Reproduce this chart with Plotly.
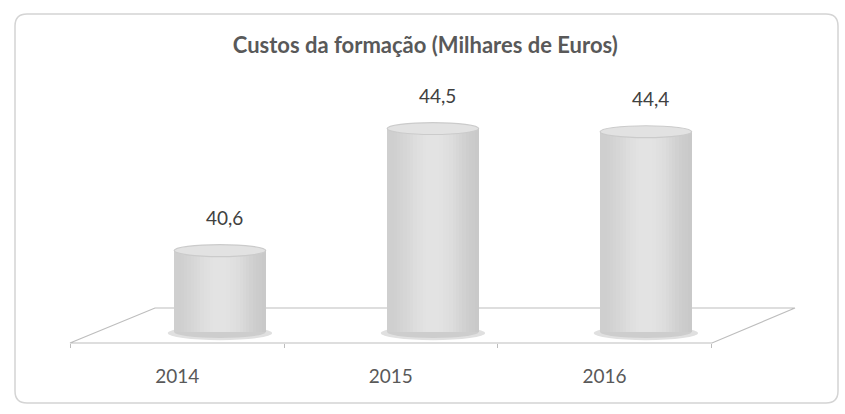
import math
import plotly.graph_objects as go

# Training costs per year, in thousands of euros
years = ["2014", "2015", "2016"]
costs = [40.6, 44.5, 44.4]
title_text = "Custos da formação (Milhares de Euros)"

BASELINE = 38.0          # floor level of the value axis
Y_TOP = 46.69
CYL_WIDTH = 0.43         # cylinder diameter in category units
TOP_HALF = 0.19          # half height of the elliptical cap (value units)
N_SLICES = 28
FONT = "Lato, Open Sans, sans-serif"


# horizontal shading profile of a softly lit cylinder
def shade(t):
    a = 0.5 - 0.5 * math.cos(2 * math.pi * t)   # 0 at edges, 1 in middle
    bright = 0.35 + 0.65 * a
    if t > 0.7:
        bright -= (t - 0.7) * 0.6
    lo, hi = 196, 228
    g = int(lo + (hi - lo) * max(0.0, min(1.0, bright)))
    return f"rgb({g},{g},{g})"


xs = list(range(len(years)))
fig = go.Figure()

slice_w = CYL_WIDTH / N_SLICES
for k in range(N_SLICES):
    t = (k + 0.5) / N_SLICES
    fig.add_trace(go.Bar(
        x=xs, y=[c - BASELINE for c in costs], base=BASELINE,
        width=slice_w * 1.15, offset=-CYL_WIDTH / 2 + k * slice_w,
        marker=dict(color=shade(t), line=dict(width=0)),
        hoverinfo="skip", showlegend=False,
    ))

shapes = []
# page frame with rounded corners (paper coordinates)
PX_L, PX_R, PX_T, PX_B = 70, 795, 60, 343


def px(xp):
    return (xp - PX_L) / (PX_R - PX_L)


def py(yp):
    return (PX_B - yp) / (PX_B - PX_T)


x0f, x1f, y0f, y1f, r = 15, 838, 14, 403, 12
frame = (
    f"M {px(x0f + r)},{py(y0f)} L {px(x1f - r)},{py(y0f)} "
    f"Q {px(x1f)},{py(y0f)} {px(x1f)},{py(y0f + r)} "
    f"L {px(x1f)},{py(y1f - r)} Q {px(x1f)},{py(y1f)} {px(x1f - r)},{py(y1f)} "
    f"L {px(x0f + r)},{py(y1f)} Q {px(x0f)},{py(y1f)} {px(x0f)},{py(y1f - r)} "
    f"L {px(x0f)},{py(y0f + r)} Q {px(x0f)},{py(y0f)} {px(x0f + r)},{py(y0f)} Z"
)
shapes.append(dict(type="path", xref="paper", yref="paper", path=frame,
                   line=dict(color="#d4d4d4", width=1.5), layer="below"))

# perspective floor
floor = (f"M {px(70)},{py(343)} L {px(712)},{py(343)} "
         f"L {px(795)},{py(308)} L {px(155)},{py(308)} Z")
shapes.append(dict(type="path", xref="paper", yref="paper", path=floor,
                   line=dict(color="#bdbdbd", width=1.2), fillcolor="white",
                   layer="below"))

for i, c in enumerate(costs):
    # soft shadow and rounded base
    shapes.append(dict(type="circle", xref="x", yref="y", layer="below",
                       x0=i - CYL_WIDTH / 2 - 0.03, x1=i + CYL_WIDTH / 2 + 0.03,
                       y0=BASELINE - TOP_HALF - 0.07, y1=BASELINE + TOP_HALF,
                       fillcolor="#e0e0e0", line=dict(width=0)))
    shapes.append(dict(type="circle", xref="x", yref="y", layer="below",
                       x0=i - CYL_WIDTH / 2, x1=i + CYL_WIDTH / 2,
                       y0=BASELINE - TOP_HALF, y1=BASELINE + TOP_HALF,
                       fillcolor="#cdcdcd", line=dict(width=0)))
    # elliptical cap
    shapes.append(dict(type="circle", xref="x", yref="y", layer="above",
                       x0=i - CYL_WIDTH / 2, x1=i + CYL_WIDTH / 2,
                       y0=c - TOP_HALF, y1=c + TOP_HALF,
                       fillcolor="#e2e2e2", line=dict(color="#cbcbcb", width=1.2)))

annotations = []
for i, c in enumerate(costs):
    annotations.append(dict(
        x=i, y=c, xref="x", yref="y", text=f"{c:.1f}".replace(".", ","),
        showarrow=False, yshift=33, xshift=5, yanchor="middle",
        font=dict(family=FONT, size=19, color="#404040"),
    ))

fig.update_layout(
    width=845, height=414,
    margin=dict(l=PX_L, r=845 - PX_R, t=PX_T, b=414 - PX_B),
    paper_bgcolor="white", plot_bgcolor="rgba(0,0,0,0)",
    barmode="overlay", bargap=0,
    title=dict(text=f"<b>{title_text}</b>", x=0.49, xref="paper",
               y=1 - 45 / 414, yref="container", xanchor="center", yanchor="middle",
               font=dict(family=FONT, size=22, color="#595959")),
    xaxis=dict(range=[-0.704, 2.700], visible=False, fixedrange=True),
    xaxis2=dict(overlaying="x", anchor="y", side="bottom",
                range=[-0.502, 2.892], tickvals=xs, ticktext=years,
                showline=False, showgrid=False, zeroline=False, ticks="",
                ticklabelstandoff=20,
                minor=dict(tickvals=[-0.5, 0.5, 1.5, 2.5], ticks="outside",
                           ticklen=4, tickcolor="#bdbdbd", showgrid=False),
                tickfont=dict(family=FONT, size=19, color="#595959")),
    yaxis=dict(range=[BASELINE - 11 / 31.3, Y_TOP], visible=False, fixedrange=True),
    shapes=shapes, annotations=annotations,
)
# placeholder trace so the front-edge category axis is drawn
fig.add_trace(go.Scatter(x=[None], y=[None], xaxis="x2", showlegend=False, hoverinfo="skip"))

fig.write_html("out.html")
